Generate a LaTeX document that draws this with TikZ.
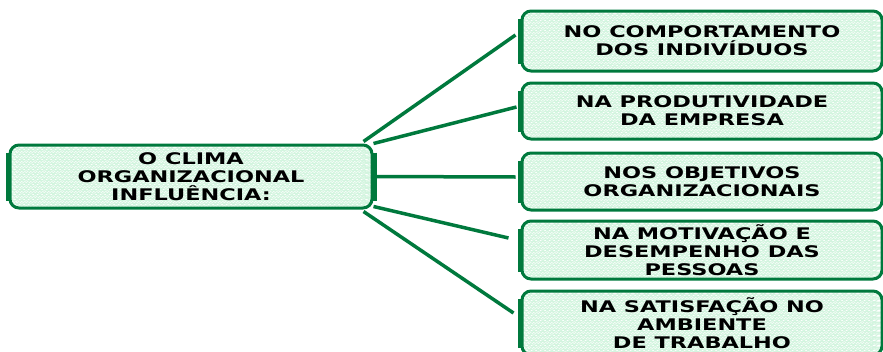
\documentclass[tikz,border=0pt]{standalone}
\usepackage{fontspec}
\usetikzlibrary{decorations.pathmorphing}
\newfontfamily\boxfont[FakeStretch=1.4]{DejaVu Sans Bold}
\definecolor{climagreen}{HTML}{00793D}
\definecolor{wavemint}{HTML}{D3F5DF}

\begin{document}
\begin{tikzpicture}[x=1pt,y=-1pt,
	wave/.style={wavemint,line width=0.6pt,decorate,decoration={snake,amplitude=1.2pt,segment length=9pt}},
	card/.style={draw=climagreen,line width=3pt,rounded corners=9pt,fill=white,
		inner sep=0pt,align=center,font=\boxfont\fontsize{16}{18}\selectfont,
		path picture={
			\foreach \k in {0,...,14}
				\draw[wave] ([yshift={-(\k*5+2)*1pt}]path picture bounding box.north west)
					-- ([yshift={-(\k*5+2)*1pt}]path picture bounding box.north east);
		},
		append after command={
			\pgfextra{\draw[climagreen,line width=6pt]
				([yshift=-9pt]\tikzlastnode.north west) -- ([yshift=9pt]\tikzlastnode.south west);
			\draw[climagreen,line width=6pt]
				([yshift=-9pt]\tikzlastnode.north east) -- ([yshift=9pt]\tikzlastnode.south east);}
		}},
	link/.style={climagreen,line width=3.5pt}]
	\clip (0,0) rectangle (883,351);
	\node[card,minimum width=362pt,minimum height=63pt] (clima) at (191,176.5) {O CLIMA\\ORGANIZACIONAL\\INFLUÊNCIA:};
\node[card,minimum width=360pt,minimum height=60pt] (b1) at (702,41) {NO COMPORTAMENTO\\DOS INDIVÍDUOS};
\node[card,minimum width=360pt,minimum height=56pt] (b2) at (702,111) {NA PRODUTIVIDADE\\DA EMPRESA};
\node[card,minimum width=360pt,minimum height=57pt] (b3) at (702,181.5) {NOS OBJETIVOS\\ORGANIZACIONAIS};
\node[card,minimum width=360pt,minimum height=58pt] (b4) at (702,250) {NA MOTIVAÇÃO E\\DESEMPENHO DAS\\PESSOAS};
\node[card,minimum width=360pt,minimum height=64pt] (b5) at (702,323) {NA SATISFAÇÃO NO\\AMBIENTE\\DE TRABALHO};
\draw[link] ([shift={(-10pt,2pt)}]clima.north east) -- ([shift={(-5pt,6pt)}]b1.west);
\draw[link] (clima.north east) -- ([shift={(-4pt,4pt)}]b2.west);
\draw[link] (clima.east) -- ([shift={(-5pt,4.5pt)}]b3.west);
\draw[link] ([yshift=3pt]clima.south east) -- ([shift={(-12pt,12pt)}]b4.west);
\draw[link] ([shift={(-10pt,-2pt)}]clima.south east) -- ([shift={(-7pt,10pt)}]b5.west);
	\end{tikzpicture}
\end{document}
